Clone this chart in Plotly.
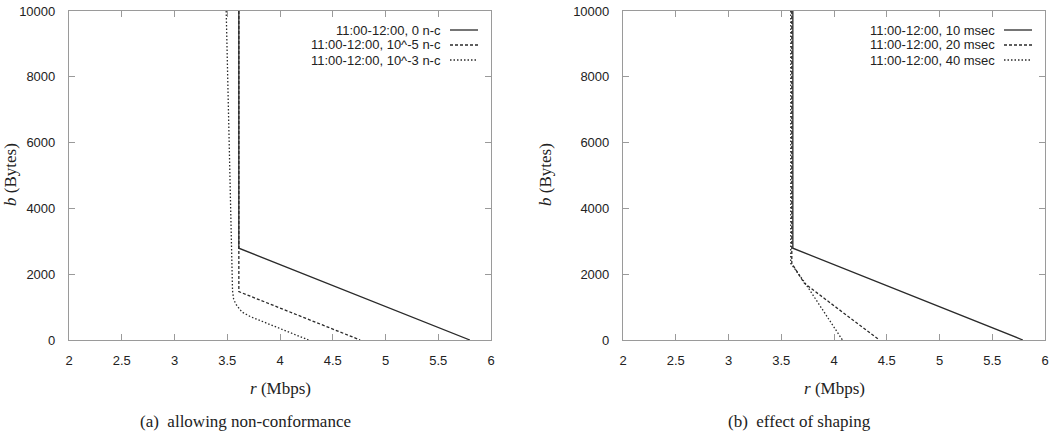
import plotly.graph_objects as go

W, H = 1054, 438

# ---------------- data ----------------
# (a) allowing non-conformance
a_names = ["11:00-12:00, 0 n-c", "11:00-12:00, 10^-5 n-c", "11:00-12:00, 10^-3 n-c"]
a_r0 = [3.61, 3.61, 5.80]
a_b0 = [10000, 2790, 0]
a_r1 = [3.61, 3.61, 4.76]
a_b1 = [10000, 1470, 0]
a_r2 = [3.49, 3.52, 3.54, 3.55, 3.56, 3.58, 3.60, 3.64, 3.72, 4.27]
a_b2 = [10000, 6000, 3000, 1500, 1250, 1100, 1010, 850, 710, 0]

# (b) effect of shaping
b_names = ["11:00-12:00, 10 msec", "11:00-12:00, 20 msec", "11:00-12:00, 40 msec"]
b_r0 = [3.61, 3.61, 5.79]
b_b0 = [10000, 2790, 0]
b_r1 = [3.60, 3.60, 3.72, 4.43]
b_b1 = [10000, 2330, 1720, 0]
b_r2 = [3.59, 3.59, 3.72, 4.08]
b_b2 = [10000, 2330, 1760, 0]

x_ticks = [2, 2.5, 3, 3.5, 4, 4.5, 5, 5.5, 6]
x_tick_text = ["2", "2.5", "3", "3.5", "4", "4.5", "5", "5.5", "6"]
y_ticks = [0, 2000, 4000, 6000, 8000, 10000]
y_tick_text = ["0", "2000", "4000", "6000", "8000", "10000"]

captions = ["(a)  allowing non-conformance", "(b)  effect of shaping"]

# ---------------- layout geometry ----------------
def px(x):
    return x / W

def py(y):
    return 1 - y / H

LEFT = (69, 491)
RIGHT = (623, 1045)
TOP, BOT = 11, 340

styles = ["solid", "3px,2px", "1.5px,2px"]
LINE_COLOR = "#2a2a2a"
FRAME = "#9a9a9a"

fig = go.Figure()

series_a = [(a_r0, a_b0), (a_r1, a_b1), (a_r2, a_b2)]
series_b = [(b_r0, b_b0), (b_r1, b_b1), (b_r2, b_b2)]

for i, (r, b) in enumerate(series_a):
    fig.add_trace(go.Scatter(x=r, y=b, mode="lines", name=a_names[i],
                             line=dict(color=LINE_COLOR, width=1.3, dash=styles[i]),
                             xaxis="x", yaxis="y", showlegend=False))
for i, (r, b) in enumerate(series_b):
    fig.add_trace(go.Scatter(x=r, y=b, mode="lines", name=b_names[i],
                             line=dict(color=LINE_COLOR, width=1.3, dash=styles[i]),
                             xaxis="x2", yaxis="y2", showlegend=False))

tickfont = dict(family="Liberation Sans", size=13, color="#222")

def xaxis(domain, anchor):
    return dict(domain=[px(domain[0]), px(domain[1])], anchor=anchor,
                range=[2, 6], tickvals=x_ticks, ticktext=x_tick_text,
                showgrid=False, zeroline=False, showline=True, mirror="ticks",
                linecolor=FRAME, linewidth=1.2, ticks="inside", ticklen=6,
                tickcolor=FRAME, tickfont=tickfont, ticklabelstandoff=8,
                automargin=False)

def yaxis(anchor):
    return dict(domain=[py(BOT), py(TOP)], anchor=anchor,
                range=[0, 10000], tickvals=y_ticks, ticktext=y_tick_text,
                showgrid=False, zeroline=False, showline=True, mirror="ticks",
                linecolor=FRAME, linewidth=1.2, ticks="inside", ticklen=6,
                tickcolor=FRAME, tickfont=tickfont, ticklabelstandoff=10,
                automargin=False)

annotations = []
shapes = []
serif = dict(family="Liberation Serif", size=17, color="#222")

for (l, rr), cap, yt_x, names in [(LEFT, captions[0], 10, a_names), (RIGHT, captions[1], 545, b_names)]:
    cx = (l + rr) / 2
    annotations.append(dict(x=px(cx), y=py(388), xref="paper", yref="paper",
                            text="<i>r</i> (Mbps)", showarrow=False, font=serif,
                            xanchor="center", yanchor="middle"))
    annotations.append(dict(x=px(cx - 35), y=py(421), xref="paper", yref="paper",
                            text=cap, showarrow=False, font=serif,
                            xanchor="center", yanchor="middle"))
    annotations.append(dict(x=px(yt_x), y=py(175), xref="paper", yref="paper",
                            text="<i>b</i> (Bytes)", showarrow=False, font=serif,
                            textangle=-90, xanchor="center", yanchor="middle"))
    # legend (text left of sample line)
    text_right = rr - 48
    for k, nm in enumerate(names):
        yy = 30 + 15 * k
        annotations.append(dict(x=px(text_right), y=py(yy), xref="paper", yref="paper",
                                text=nm, showarrow=False,
                                font=dict(family="Liberation Sans", size=13, color="#222"),
                                xanchor="right", yanchor="middle"))
        shapes.append(dict(type="line", xref="paper", yref="paper",
                           x0=px(rr - 41), x1=px(rr - 13), y0=py(yy), y1=py(yy),
                           line=dict(color=LINE_COLOR, width=1.3, dash=styles[k])))

fig.update_layout(
    width=W, height=H,
    margin=dict(l=0, r=0, t=0, b=0),
    paper_bgcolor="white", plot_bgcolor="white",
    xaxis=xaxis(LEFT, "y"), yaxis=yaxis("x"),
    xaxis2=xaxis(RIGHT, "y2"), yaxis2=yaxis("x2"),
    annotations=annotations, shapes=shapes,
    showlegend=False,
)

fig.write_html("out.html")
